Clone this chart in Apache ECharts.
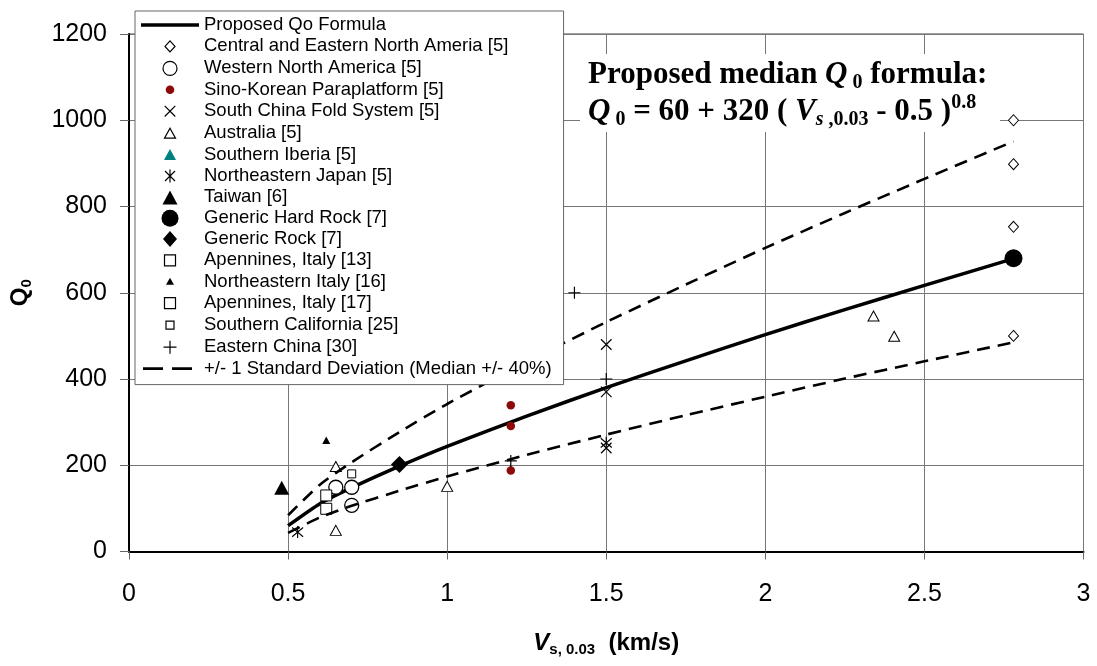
<!DOCTYPE html>
<html>
<head>
<meta charset="utf-8">
<script src="https://cdn.jsdelivr.net/npm/echarts/dist/echarts.min.js"></script>
<style>
html, body { margin: 0; padding: 0; background: #fff; }
#chart { width: 1097px; height: 666px; }
</style>
</head>
<body>
<div id="chart"></div>
<script>
var SANS = 'Liberation Sans, Arial, sans-serif';
var SERIF = 'Liberation Serif, Times New Roman, serif';

// proposed median curve and +/- 1 std dev
var curveX = [0.5, 0.6, 0.7, 0.85, 1.0, 1.25, 1.5, 1.75, 2.0, 2.25, 2.5, 2.78];
var medianQ = [60, 111, 148, 198, 244, 314, 380, 442, 503, 561, 617, 679];
var upperQ = [84, 155, 207, 277, 342, 440, 532, 619, 704, 785, 864, 951];
var lowerQ = [43, 79, 106, 141, 174, 224, 271, 316, 359, 401, 441, 485];

// observed Q0 points [Vs, Q0]
var cenaPts = [[2.78, 1000], [2.78, 898], [2.78, 753], [2.78, 500]];
var wnaPts = [[0.65, 149], [0.70, 149], [0.70, 107]];
var sinoPts = [[1.2, 339], [1.2, 291], [1.2, 188]];
var southChinaPts = [[1.5, 480], [1.5, 370], [1.5, 240]];
var australiaPts = [[0.65, 197], [0.65, 49], [1.0, 151], [2.34, 546], [2.405, 499]];
var iberiaPts = [];
var japanPts = [[0.53, 45], [1.5, 252]];
var taiwanPts = [[0.48, 148]];
var hardRockPts = [[2.78, 680]];
var rockPts = [[0.85, 202]];
var apen13Pts = [[0.62, 130]];
var neItalyPts = [[0.62, 258]];
var apen17Pts = [[0.62, 99]];
var soCalPts = [[0.70, 180]];
var eChinaPts = [[1.2, 210], [1.4, 600], [1.5, 400]];

var xTicks = { min: 0, max: 3, interval: 0.5 };
var yTicks = { min: 0, max: 1200, interval: 200 };

// zip x and y lists into points
function pairs(xs, ys) {
    var out = [];
    for (var i = 0; i < xs.length; i++) {
        out.push([xs[i], ys[i]]);
    }
    return out;
}

// legend icons sit in a 20x20 box so each keeps its own size
function icon(p) {
    return 'path://M0,0M20,20' + p;
}
function lineIcon(p) {
    return 'path://M0,0M58,20' + p;
}

var CROSS = 'path://M0,0L10,10M10,0L0,10';
var STAR = 'path://M0,0L10,10M10,0L0,10M5,-1.5L5,11.5';
var PLUS = 'path://M5,0L5,10M0,5L10,5';

// one entry per legend row
var marks = [
    { name: 'Central and Eastern North Ameria [5]', data: cenaPts, symbol: 'diamond', size: [10, 11], fill: '#fff', stroke: '#000', bw: 1,
      icon: icon('M10,4.5L15,10L10,15.5L5,10Z') },
    { name: 'Western North America [5]', data: wnaPts, symbol: 'circle', size: 14, fill: '#fff', stroke: '#000', bw: 1.3,
      icon: icon('M3,10A7,7 0 1 1 17,10A7,7 0 1 1 3,10Z') },
    { name: 'Sino-Korean Paraplatform [5]', data: sinoPts, symbol: 'circle', size: 8.5, fill: '#8c0a0a', stroke: '#8c0a0a', bw: 0,
      icon: icon('M5.7,10A4.3,4.3 0 1 1 14.3,10A4.3,4.3 0 1 1 5.7,10Z') },
    { name: 'South China Fold System [5]', data: southChinaPts, symbol: CROSS, size: 10.5, fill: 'rgba(0,0,0,0)', stroke: '#000', bw: 1.2,
      icon: icon('M4.7,4.7L15.3,15.3M15.3,4.7L4.7,15.3') },
    { name: 'Australia [5]', data: australiaPts, symbol: 'triangle', size: [11, 10], fill: '#fff', stroke: '#000', bw: 1,
      icon: icon('M10,5L15.5,15L4.5,15Z') },
    { name: 'Southern Iberia [5]', data: iberiaPts, symbol: 'triangle', size: [12, 11], fill: '#008080', stroke: '#008080', bw: 0,
      icon: icon('M10,4.5L16,15.5L4,15.5Z') },
    { name: 'Northeastern Japan [5]', data: japanPts, symbol: STAR, size: [11, 12], fill: 'rgba(0,0,0,0)', stroke: '#000', bw: 1.2,
      icon: icon('M5,5L15,15M15,5L5,15M10,3.5L10,16.5') },
    { name: 'Taiwan [6]', data: taiwanPts, symbol: 'triangle', size: [15, 14], fill: '#000', stroke: '#000', bw: 0,
      icon: icon('M10,3L17.5,17L2.5,17Z') },
    { name: 'Generic Hard Rock [7]', data: hardRockPts, symbol: 'circle', size: 18, fill: '#000', stroke: '#000', bw: 0,
      icon: icon('M1.5,10A8.5,8.5 0 1 1 18.5,10A8.5,8.5 0 1 1 1.5,10Z') },
    { name: 'Generic Rock [7]', data: rockPts, symbol: 'diamond', size: [17, 17], fill: '#000', stroke: '#000', bw: 0,
      icon: icon('M10,2L17,10L10,18L3,10Z') },
    { name: 'Apennines, Italy [13]', data: apen13Pts, symbol: 'rect', size: 11, fill: '#fff', stroke: '#000', bw: 1,
      icon: icon('M4.5,4.5L15.5,4.5L15.5,15.5L4.5,15.5Z') },
    { name: 'Northeastern Italy [16]', data: neItalyPts, symbol: 'triangle', size: [8, 7.5], fill: '#000', stroke: '#000', bw: 0,
      icon: icon('M10,6L14,13L6,13Z') },
    { name: 'Apennines, Italy [17]', data: apen17Pts, symbol: 'rect', size: 11, fill: '#fff', stroke: '#000', bw: 1,
      icon: icon('M4.5,4.5L15.5,4.5L15.5,15.5L4.5,15.5Z') },
    { name: 'Southern California [25]', data: soCalPts, symbol: 'rect', size: 8, fill: '#fff', stroke: '#000', bw: 1,
      icon: icon('M6,6L14,6L14,14L6,14Z') },
    { name: 'Eastern China [30]', data: eChinaPts, symbol: PLUS, size: 12, fill: 'rgba(0,0,0,0)', stroke: '#000', bw: 1.2,
      icon: icon('M10,3.5L10,16.5M3.5,10L16.5,10') }
];

var medianName = 'Proposed Qo Formula';
var sdName = '+/- 1 Standard Deviation (Median +/- 40%)';

var series = [];
var legendData = [];

//中值曲线
series.push({
    name: medianName,
    type: 'line',
    data: pairs(curveX, medianQ),
    symbol: 'none',
    smooth: 0.2,
    lineStyle: { color: '#000', width: 3.5 },
    itemStyle: { color: '#000' }
});
legendData.push({
    name: medianName,
    icon: lineIcon('M0,8.25L58,8.25L58,11.75L0,11.75Z'),
    itemStyle: { color: '#000', borderWidth: 0 }
});

for (var i = 0; i < marks.length; i++) {
    var m = marks[i];
    series.push({
        name: m.name,
        type: 'scatter',
        data: m.data,
        symbol: m.symbol,
        symbolSize: m.size,
        itemStyle: { color: m.fill, borderColor: m.stroke, borderWidth: m.bw, opacity: 1 },
        z: 3
    });
    legendData.push({
        name: m.name,
        icon: m.icon,
        itemStyle: { borderWidth: m.bw > 0 ? 1.2 : 0 }
    });
}

//上下限虚线
var dash = { color: '#000', width: 2.6, type: [13, 8] };
series.push({
    name: sdName,
    type: 'line',
    data: pairs(curveX, upperQ),
    symbol: 'none',
    smooth: 0.2,
    lineStyle: dash,
    itemStyle: { color: '#000' },
    z: 4
});
series.push({
    name: sdName,
    type: 'line',
    data: pairs(curveX, lowerQ),
    symbol: 'none',
    smooth: 0.2,
    lineStyle: dash,
    itemStyle: { color: '#000' },
    z: 4
});
legendData.push({
    name: sdName,
    icon: lineIcon('M2,8.7L22,8.7L22,11.3L2,11.3ZM31,8.7L51,8.7L51,11.3L31,11.3Z'),
    itemStyle: { color: '#000', borderWidth: 0 }
});

var formulaText = '{b|Proposed median }{bi|Q}{sub| 0}{b| formula:}\n' +
    '{bi|Q}{sub| 0}{b| = 60 + 320 ( }{bi|V}{subi|s}{sub| ,0.03}{b| - 0.5 )}{sup|0.8}';

var option = {
    animation: false,
    backgroundColor: '#fff',
    textStyle: { fontFamily: SANS },
    grid: {
        left: 129, right: 13.5, top: 34, bottom: 114.5,
        show: true, borderColor: '#444', borderWidth: 1,
        outerBoundsMode: 'none'
    },
    legend: {
        orient: 'vertical',
        left: 135,
        top: 11,
        padding: [4, 12, 6, 6],
        itemWidth: 58,
        itemHeight: 20,
        itemGap: 0.8,
        backgroundColor: '#fff',
        borderColor: '#666',
        borderWidth: 1,
        selectedMode: false,
        itemStyle: { borderWidth: 1.2 },
        textStyle: { fontFamily: SANS, fontSize: 18.5, lineHeight: 20, color: '#000' },
        data: legendData,
        z: 10
    },
    xAxis: {
        type: 'value',
        min: xTicks.min, max: xTicks.max, interval: xTicks.interval,
        name: '{v|V}{s|s, 0.03}{u|  (km/s)}',
        nameLocation: 'middle',
        nameGap: 78,
        nameTextStyle: {
            rich: {
                v: { fontFamily: SANS, fontSize: 24, fontWeight: 'bold', fontStyle: 'italic', color: '#000', lineHeight: 28 },
                s: { fontFamily: SANS, fontSize: 15, fontWeight: 'bold', color: '#000', lineHeight: 12, verticalAlign: 'bottom' },
                u: { fontFamily: SANS, fontSize: 24, fontWeight: 'bold', color: '#000', lineHeight: 28 }
            }
        },
        axisLine: { show: true, onZero: false, lineStyle: { color: '#000', width: 2 } },
        axisTick: { show: true, inside: false, length: 8, lineStyle: { color: '#666', width: 1 } },
        axisLabel: { fontFamily: SANS, fontSize: 25, color: '#000', margin: 30 },
        splitLine: { show: true, lineStyle: { color: '#777', width: 1 } }
    },
    yAxis: {
        type: 'value',
        min: yTicks.min, max: yTicks.max, interval: yTicks.interval,
        name: '{q|Q}{z|0}',
        nameLocation: 'middle',
        nameRotate: 90,
        nameGap: 95,
        nameTextStyle: {
            rich: {
                q: { fontFamily: SANS, fontSize: 24, fontWeight: 'bold', color: '#000', lineHeight: 28 },
                z: { fontFamily: SANS, fontSize: 15, fontWeight: 'bold', color: '#000', lineHeight: 12, verticalAlign: 'bottom' }
            }
        },
        axisLine: { show: true, onZero: false, lineStyle: { color: '#000', width: 2 } },
        axisTick: { show: true, inside: false, length: 9, lineStyle: { color: '#666', width: 1 } },
        axisLabel: {
            fontFamily: SANS, fontSize: 25, color: '#000', margin: 22,
            formatter: function(v) { return String(v); }
        },
        splitLine: { show: true, lineStyle: { color: '#777', width: 1 } }
    },
    graphic: [
        {
            type: 'rect',
            shape: { x: 580, y: 54, width: 420, height: 78 },
            style: { fill: '#fff' },
            z: 1
        },
        {
            type: 'text',
            x: 588,
            y: 56,
            z: 1,
            style: {
                text: formulaText,
                fill: '#000',
                verticalAlign: 'top',
                rich: {
                    b: { fontFamily: SERIF, fontSize: 31, fontWeight: 'bold', lineHeight: 37, fill: '#000' },
                    bi: { fontFamily: SERIF, fontSize: 31, fontWeight: 'bold', fontStyle: 'italic', lineHeight: 37, fill: '#000' },
                    sub: { fontFamily: SERIF, fontSize: 20, fontWeight: 'bold', lineHeight: 19, verticalAlign: 'bottom', fill: '#000' },
                    subi: { fontFamily: SERIF, fontSize: 20, fontWeight: 'bold', fontStyle: 'italic', lineHeight: 19, verticalAlign: 'bottom', fill: '#000' },
                    sup: { fontFamily: SERIF, fontSize: 20, fontWeight: 'bold', lineHeight: 19, verticalAlign: 'top', fill: '#000' }
                }
            }
        }
    ],
    series: series
};

var chart = echarts.init(document.getElementById('chart'));
chart.setOption(option);
</script>
</body>
</html>
